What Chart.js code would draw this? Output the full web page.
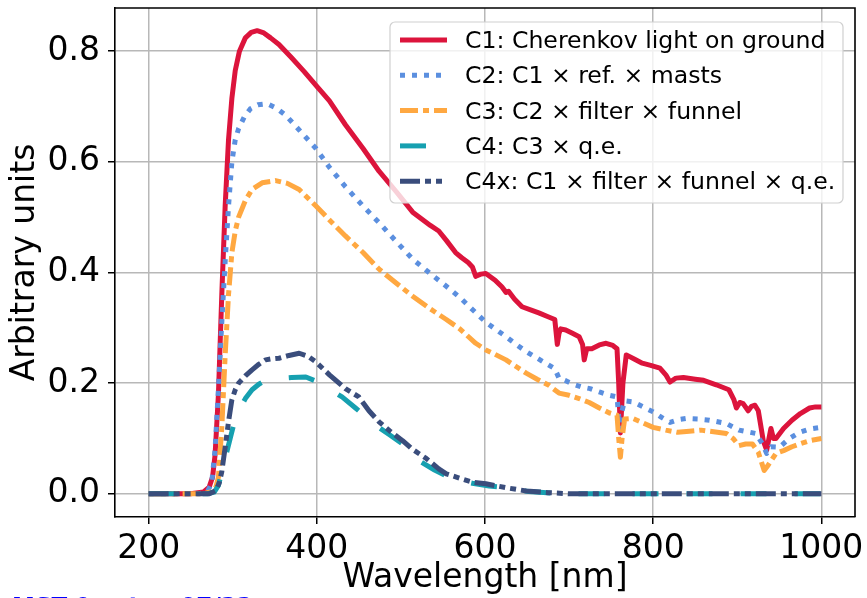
<!DOCTYPE html>
<html>
<head>
<meta charset="utf-8">
<script src="https://cdn.jsdelivr.net/npm/chart.js@4.4.0/dist/chart.umd.min.js"></script>
<style>
  html, body { margin: 0; padding: 0; background: #fff; }
</style>
</head>
<body>
<canvas id="spettro" width="867" height="598"></canvas>
<script>
// tick positions and labels
var xTicks = [200, 400, 600, 800, 1000];
var xTickLabels = ['200', '400', '600', '800', '1000'];
var yTicks = [0, 0.2, 0.4, 0.6, 0.8];
var yTickLabels = ['0.0', '0.2', '0.4', '0.6', '0.8'];

var seriesLabels = [
  'C1: Cherenkov light on ground',
  'C2: C1 \u00d7 ref. \u00d7 masts',
  'C3: C2 \u00d7 filter \u00d7 funnel',
  'C4: C3 \u00d7 q.e.',
  'C4x: C1 \u00d7 filter \u00d7 funnel \u00d7 q.e.'
];

// C1 - Cherenkov light on ground
var c1Wl  = [200, 250, 265, 272, 276, 279, 283, 287, 291, 295, 299, 303, 308, 315, 322, 329, 337, 345, 355, 370, 385, 399, 415, 434, 455, 474, 495, 514, 535, 545, 554, 565, 572, 580, 585, 589, 595, 601, 612, 620, 625, 628, 635, 644, 655, 664, 675, 683, 686, 688, 690, 696, 704, 712, 716, 718, 721, 727, 736, 744, 752, 757, 759, 761, 764, 768, 778, 787, 797, 808, 815, 820, 827, 836, 850, 860, 875, 890, 896, 899, 903, 907, 913, 917, 921, 925, 931, 935, 940, 943, 946, 955, 965, 975, 986, 993, 1000];
var c1Val = [0, 0, 0.003, 0.012, 0.03, 0.07, 0.18, 0.36, 0.52, 0.64, 0.715, 0.765, 0.8, 0.824, 0.834, 0.837, 0.833, 0.824, 0.812, 0.788, 0.763, 0.738, 0.71, 0.667, 0.624, 0.583, 0.545, 0.509, 0.485, 0.475, 0.458, 0.436, 0.427, 0.418, 0.41, 0.393, 0.397, 0.398, 0.386, 0.374, 0.364, 0.366, 0.352, 0.338, 0.332, 0.327, 0.32, 0.315, 0.27, 0.29, 0.298, 0.296, 0.29, 0.284, 0.27, 0.242, 0.262, 0.262, 0.269, 0.272, 0.268, 0.262, 0.2, 0.11, 0.2, 0.251, 0.243, 0.236, 0.232, 0.227, 0.215, 0.202, 0.209, 0.21, 0.207, 0.205, 0.197, 0.188, 0.17, 0.155, 0.165, 0.163, 0.15, 0.158, 0.16, 0.15, 0.095, 0.079, 0.118, 0.1, 0.1, 0.118, 0.133, 0.145, 0.155, 0.157, 0.157];

// C2
var c2Wl  = [200, 260, 270, 275, 279, 283, 287, 291, 295, 299, 303, 307, 314, 321, 330, 341, 352, 363, 380, 399, 415, 434, 455, 474, 495, 514, 535, 554, 570, 585, 601, 612, 625, 637, 649, 660, 672, 683, 688, 695, 705, 715, 725, 736, 748, 757, 759, 761, 763, 766, 776, 788, 800, 810, 820, 830, 839, 853, 867, 887, 902, 912, 922, 930, 935, 940, 950, 962, 974, 986, 1000];
var c2Val = [0, 0, 0.004, 0.02, 0.08, 0.19, 0.31, 0.42, 0.52, 0.6, 0.64, 0.66, 0.682, 0.696, 0.703, 0.705, 0.697, 0.684, 0.656, 0.624, 0.59, 0.555, 0.52, 0.49, 0.455, 0.424, 0.398, 0.375, 0.355, 0.333, 0.31, 0.298, 0.284, 0.27, 0.257, 0.247, 0.236, 0.226, 0.209, 0.205, 0.198, 0.193, 0.19, 0.184, 0.178, 0.175, 0.14, 0.115, 0.15, 0.168, 0.166, 0.157, 0.148, 0.138, 0.129, 0.134, 0.136, 0.135, 0.133, 0.127, 0.115, 0.112, 0.109, 0.09, 0.073, 0.085, 0.084, 0.1, 0.111, 0.117, 0.12];

// C3
var c3Wl  = [200, 265, 275, 280, 283, 287, 291, 295, 299, 303, 307, 315, 323, 335, 351, 365, 379, 399, 415, 434, 455, 474, 495, 514, 535, 554, 570, 589, 601, 612, 625, 637, 649, 662, 676, 688, 700, 712, 724, 736, 748, 757, 759, 761, 763, 766, 776, 788, 800, 815, 829, 843, 857, 872, 887, 895, 902, 910, 918, 925, 932, 936, 946, 955, 965, 974, 986, 1000];
var c3Val = [0, 0, 0.004, 0.012, 0.03, 0.12, 0.25, 0.36, 0.436, 0.475, 0.5, 0.53, 0.55, 0.562, 0.566, 0.561, 0.55, 0.52, 0.495, 0.466, 0.436, 0.406, 0.38, 0.357, 0.334, 0.315, 0.298, 0.272, 0.26, 0.252, 0.242, 0.23, 0.218, 0.207, 0.196, 0.182, 0.178, 0.172, 0.165, 0.155, 0.146, 0.142, 0.1, 0.066, 0.1, 0.135, 0.136, 0.128, 0.12, 0.115, 0.111, 0.113, 0.115, 0.112, 0.109, 0.1, 0.087, 0.09, 0.09, 0.075, 0.042, 0.05, 0.073, 0.078, 0.085, 0.09, 0.096, 0.1];

// C4
var c4Wl  = [200, 270, 278, 283, 287, 292, 297, 302, 307, 315, 323, 331, 339, 352, 370, 387, 400, 414, 430, 446, 458, 470, 486, 502, 512, 521, 540, 557, 570, 585, 605, 625, 640, 652, 680, 720, 1000];
var c4Val = [0, 0, 0.003, 0.015, 0.04, 0.07, 0.1, 0.13, 0.15, 0.172, 0.188, 0.198, 0.205, 0.208, 0.21, 0.211, 0.203, 0.19, 0.175, 0.155, 0.14, 0.124, 0.107, 0.09, 0.075, 0.06, 0.043, 0.03, 0.024, 0.019, 0.014, 0.011, 0.007, 0.004, 0.001, 0, 0];

// C4x
var c4xWl  = [200, 272, 280, 284, 287, 291, 295, 299, 303, 307, 315, 323, 331, 339, 347, 355, 367, 379, 390, 399, 415, 434, 450, 462, 474, 488, 502, 514, 530, 545, 554, 570, 585, 601, 625, 649, 675, 700, 1000];
var c4xVal = [0, 0, 0.006, 0.02, 0.04, 0.084, 0.13, 0.17, 0.188, 0.2, 0.213, 0.224, 0.234, 0.242, 0.244, 0.245, 0.25, 0.254, 0.248, 0.238, 0.215, 0.19, 0.175, 0.15, 0.13, 0.112, 0.096, 0.08, 0.064, 0.045, 0.036, 0.028, 0.021, 0.018, 0.011, 0.005, 0.002, 0, 0];

function punti(wl, val) {
  return wl.map(function(w, i) { return { x: w, y: val[i] }; });
}

Chart.defaults.font.family = '"DejaVu Sans", sans-serif';
Chart.defaults.color = '#000';

// frame (top/right spines) + legend inside the axes
var cornicePlugin = {
  id: 'cornice',
  afterDatasetsDraw: function(chart) {
    var ctx = chart.ctx, a = chart.chartArea;
    ctx.save();
    ctx.strokeStyle = '#000';
    ctx.lineWidth = 1.6;
    ctx.beginPath();
    ctx.moveTo(a.left, a.top);
    ctx.lineTo(a.right, a.top);
    ctx.lineTo(a.right, a.bottom);
    ctx.stroke();

    var w = 453, h = 181;
    var right = a.right - 12, top = a.top + 14, left = right - w;
    ctx.beginPath();
    ctx.roundRect(left, top, w, h, 5);
    ctx.fillStyle = 'rgba(255,255,255,0.8)';
    ctx.fill();
    ctx.strokeStyle = '#d0d0d0';
    ctx.lineWidth = 1.2;
    ctx.stroke();

    ctx.font = '23.6px "DejaVu Sans"';
    ctx.textBaseline = 'alphabetic';
    chart.data.datasets.forEach(function(ds, i) {
      var y = top + 18 + i * 35.3;
      ctx.beginPath();
      ctx.setLineDash(ds.borderDash || []);
      ctx.strokeStyle = ds.borderColor;
      ctx.lineWidth = ds.borderWidth;
      ctx.lineCap = 'butt';
      ctx.moveTo(left + 10, y);
      ctx.lineTo(left + 57, y);
      ctx.stroke();
      ctx.setLineDash([]);
      ctx.fillStyle = '#000';
      ctx.fillText(ds.label, left + 75, y + 8);
    });

    // stamp in the bottom-left corner, mostly cut off
    ctx.font = 'bold 23px "DejaVu Sans"';
    ctx.fillStyle = '#0000ff';
    ctx.fillText('MST 9 setup 07/22', 12, 614);
    ctx.restore();
  }
};

var ctx = document.getElementById('spettro');

var myChart = new Chart(ctx, {
  type: 'line',
  data: {
    datasets: [{
      label: seriesLabels[0],
      data: punti(c1Wl, c1Val),
      borderColor: '#dc143c',
      borderWidth: 5,
      order: 5
    }, {
      label: seriesLabels[1],
      data: punti(c2Wl, c2Val),
      borderColor: '#5b8fdf',
      borderWidth: 5,
      borderDash: [5, 7],
      order: 4
    }, {
      label: seriesLabels[2],
      data: punti(c3Wl, c3Val),
      borderColor: '#ffa841',
      borderWidth: 5,
      borderDash: [18, 5, 6, 5],
      order: 3
    }, {
      label: seriesLabels[3],
      data: punti(c4Wl, c4Val),
      borderColor: '#16a0b0',
      borderWidth: 5,
      borderDash: [26, 28],
      order: 2
    }, {
      label: seriesLabels[4],
      data: punti(c4xWl, c4xVal),
      borderColor: '#3a4d7c',
      borderWidth: 5,
      borderDash: [20, 5, 6, 5, 6, 5],
      order: 1
    }]
  },
  options: {
    responsive: false,
    animation: false,
    devicePixelRatio: 1,
    layout: { padding: { top: 8, right: 12, left: 0, bottom: 0 } },
    elements: {
      point: { radius: 0 },
      line: { tension: 0, borderCapStyle: 'butt', borderJoinStyle: 'round' }
    },
    plugins: {
      legend: { display: false },
      tooltip: { enabled: false }
    },
    scales: {
      x: {
        type: 'linear',
        min: 160,
        max: 1040,
        afterBuildTicks: function(s) { s.ticks = xTicks.map(function(v) { return { value: v }; }); },
        afterFit: function(s) { s.height = 81; s.paddingLeft = 0; s.paddingRight = 0; },
        ticks: {
          font: { size: 33 },
          color: '#000',
          padding: 6,
          maxRotation: 0,
          autoSkip: false,
          callback: function(v) { return xTickLabels[xTicks.indexOf(v)]; }
        },
        grid: { color: '#b8b8b8', lineWidth: 1.5, tickLength: 7, tickColor: '#000', tickWidth: 1.5 },
        border: { color: '#000', width: 1.6 },
        title: { display: true, text: 'Wavelength [nm]', font: { size: 33 }, color: '#000', padding: { top: 0, bottom: 0 } }
      },
      y: {
        type: 'linear',
        min: -0.042,
        max: 0.878,
        afterBuildTicks: function(s) { s.ticks = yTicks.map(function(v) { return { value: v }; }); },
        afterFit: function(s) { s.width = 115; s.paddingTop = 0; s.paddingBottom = 0; },
        ticks: {
          font: { size: 33 },
          color: '#000',
          padding: 8,
          autoSkip: false,
          callback: function(v) { return yTickLabels[yTicks.indexOf(v)]; }
        },
        grid: { color: '#b8b8b8', lineWidth: 1.5, tickLength: 7, tickColor: '#000', tickWidth: 1.5 },
        border: { color: '#000', width: 1.6 },
        title: { display: true, text: 'Arbitrary units', font: { size: 33 }, color: '#000', padding: { top: 6, bottom: 0 } }
      }
    }
  },
  plugins: [cornicePlugin]
});
</script>
</body>
</html>
